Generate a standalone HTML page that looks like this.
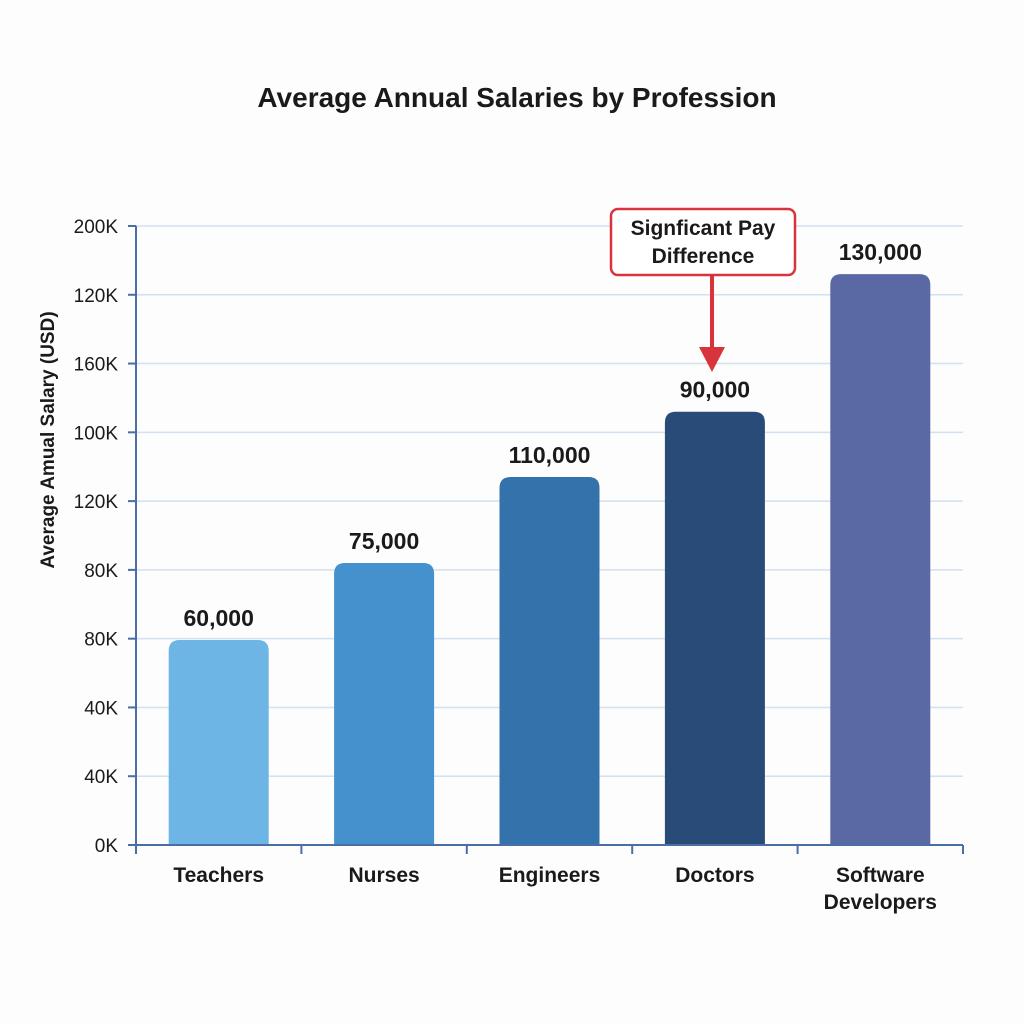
<!DOCTYPE html>
<html><head><meta charset="utf-8">
<style>
html,body{margin:0;padding:0;background:#fff;}
svg{display:block;font-family:"Liberation Sans",Arial,sans-serif;}
</style></head>
<body>
<svg id="chart" width="1024" height="1024" viewBox="0 0 1024 1024">
<rect width="1024" height="1024" fill="#fdfdfd"/>
<text x="517" y="107" text-anchor="middle" font-size="28" font-weight="bold" fill="#1a1a1a">Average Annual Salaries by Profession</text>
<text transform="translate(54,440) rotate(-90)" text-anchor="middle" font-size="19" font-weight="bold" fill="#1a1a1a">Average Amual Salary (USD)</text>
<g id="grid"></g><g id="bars"></g><g id="axes"></g>
<g>
<rect x="611" y="209" width="184" height="66" rx="7" fill="#fff" stroke="#d8343c" stroke-width="2.5"/>
<text x="703" y="235" text-anchor="middle" font-size="21" font-weight="bold" fill="#1a1a1a">Signficant Pay</text>
<text x="703" y="263" text-anchor="middle" font-size="21" font-weight="bold" fill="#1a1a1a">Difference</text>
<line x1="712" y1="276" x2="712" y2="352" stroke="#d8343c" stroke-width="4"/>
<polygon points="699,347 725,347 712,372" fill="#d8343c"/>
</g>
</svg>
<script>
const categories = ["Teachers","Nurses","Engineers","Doctors","Software Developers"];
const values = [59.6, 82, 107, 126, 166];
const valueLabels = ["60,000","75,000","110,000","90,000","130,000"];
const tickLabels = ["0K","40K","40K","80K","80K","120K","100K","160K","120K","200K"];
const colors = ["#6cb5e5","#4491cd","#3372aa","#284b78","#5a69a4"];

const NS="http://www.w3.org/2000/svg";
const X0=136,X1=963,Y0=845,Y1=226,YMAX=180;
const band=(X1-X0)/categories.length;
const xc=i=>X0+band*(i+0.5);
const y=v=>Y0-(v/YMAX)*(Y0-Y1);
function mk(tag,attrs,parent){const e=document.createElementNS(NS,tag);for(const k in attrs)e.setAttribute(k,attrs[k]);parent.appendChild(e);return e;}
const grid=document.getElementById('grid'),bars=document.getElementById('bars'),axes=document.getElementById('axes');
tickLabels.forEach((t,i)=>{
  const yy=Y0-i*(Y0-Y1)/(tickLabels.length-1);
  if(i>0){const g=mk('line',{x1:X0,x2:X1,y1:yy,y2:yy,stroke:'#d3e0ee','stroke-width':1.5},grid);
  
  }
  const tk=mk('line',{x1:X0-8,x2:X0,y1:yy,y2:yy,stroke:'#4a6fa5','stroke-width':2},axes);
  
  
  const tl=mk('text',{x:118,y:yy+7,'text-anchor':'end','font-size':19,fill:'#1a1a1a'},axes);
  tl.textContent=t;
  
  
});
const bw=100,r=11;
categories.forEach((c,i)=>{
  const x=xc(i)-bw/2,top=y(values[i]);
  const p=mk('path',{d:`M${x},${Y0} L${x},${top+r} Q${x},${top} ${x+r},${top} L${x+bw-r},${top} Q${x+bw},${top} ${x+bw},${top+r} L${x+bw},${Y0} Z`,fill:colors[i]},bars);
  
  
  const vl=mk('text',{x:xc(i),y:top-14,'text-anchor':'middle','font-size':23,'font-weight':'bold',fill:'#1a1a1a'},bars);
  vl.textContent=valueLabels[i];
  
  
  const words=c.split(' ');
  words.forEach((w,j)=>{
    const cl=mk('text',{x:xc(i),y:882+j*27,'text-anchor':'middle','font-size':21,'font-weight':'bold',fill:'#1a1a1a'},axes);
    cl.textContent=w;
    
    
  });
});
for(let i=0;i<=categories.length;i++){
  const xx=X0+band*i;
  const t=mk('line',{x1:xx,x2:xx,y1:Y0,y2:Y0+9,stroke:'#4a6fa5','stroke-width':2},axes);
  
  
}
const ya=mk('line',{x1:X0,x2:X0,y1:Y1,y2:Y0,stroke:'#4a6fa5','stroke-width':2},axes);


const xa=mk('line',{x1:X0-8,x2:X1,y1:Y0,y2:Y0,stroke:'#4a6fa5','stroke-width':2},axes);


</script>
</body></html>
